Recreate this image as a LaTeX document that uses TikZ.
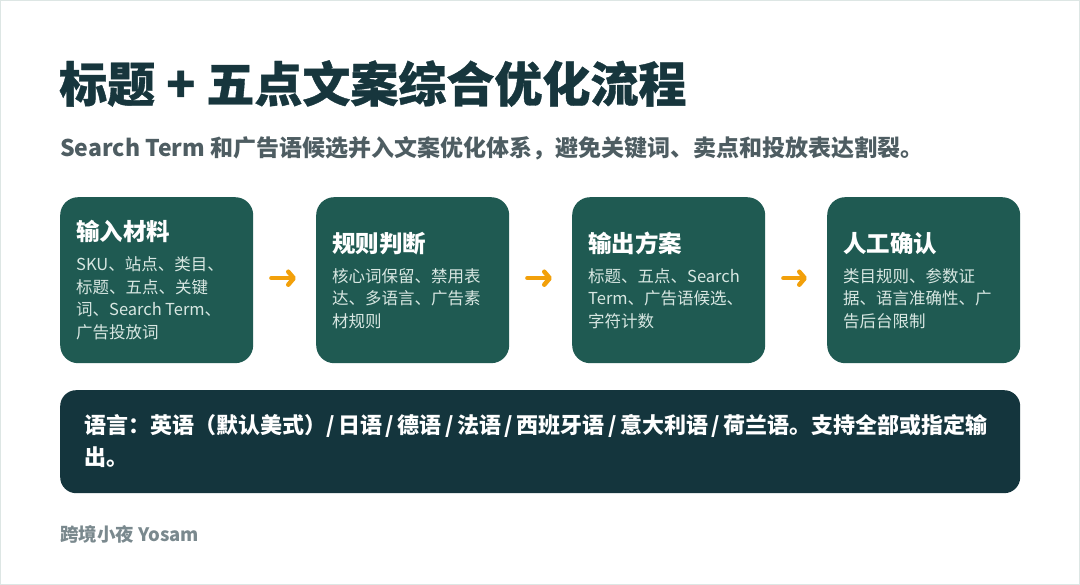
\documentclass[tikz,border=0pt]{standalone}
\usepackage{fontspec}
\setmainfont{Noto Sans CJK SC}
\newfontfamily\heavyfont{Noto Sans CJK SC}[BoldFeatures={FakeBold=0.8}]
\usetikzlibrary{arrows.meta}
\definecolor{frame}{HTML}{DDE6E4}
\definecolor{titlec}{HTML}{17363D}
\definecolor{subc}{HTML}{4E5D62}
\definecolor{boxc}{HTML}{1F5A52}
\definecolor{bodyc}{HTML}{D8E7E2}
\definecolor{darkc}{HTML}{14353D}
\definecolor{arrowc}{HTML}{F2A00A}
\definecolor{footc}{HTML}{7A898E}
\tikzset{
  stepbox/.style={fill=boxc, rounded corners=18pt, minimum width=193pt, minimum height=166pt, inner sep=0pt, anchor=north west, draw=none},
  boxtext/.style={anchor=west, inner sep=0pt, text width=170pt, align=left, text=white},
  flowarrow/.style={draw=arrowc, line width=4.5pt, line cap=round, shorten <=18pt, shorten >=20pt, -{Straight Barb[length=5.5pt, width=13pt, round]}},
}
\newcommand{\bt}[2]{{\fontsize{23.5}{23.5}\selectfont\bfseries #1\par}\vskip 7.5pt{\fontsize{16.5}{22.5}\selectfont\color{bodyc}#2\par}}
\newcommand{\sep}{\hspace{3.5pt}/\hspace{3.5pt}}
\begin{document}
\begin{tikzpicture}[x=1pt, y=-1pt]
\path[use as bounding box, draw=frame, line width=1pt, fill=white] (0.5,0.5) rectangle (1079.5,584.5);
\node[anchor=base west, inner sep=0pt, text=titlec, font=\fontsize{48}{48}\heavyfont\bfseries] (title) at (59,102) {标题 + 五点文案综合优化流程};
\node[anchor=base west, inner sep=0pt, text=subc, font=\fontsize{23}{23}\selectfont\bfseries] (sub) at (60,156.5) {Search Term 和广告语候选并入文案优化体系，避免关键词、卖点和投放表达割裂。};
\node[stepbox] (b1) at (60,197) {};
\node[stepbox] (b2) at (316,197) {};
\node[stepbox] (b3) at (572,197) {};
\node[stepbox] (b4) at (827,197) {};
\node[boxtext] (t1) at ([xshift=16pt]b1.west) {\bt{输入材料}{SKU、站点、类目、\\标题、五点、关键\\词、Search Term、\\广告投放词}};
\node[boxtext] (t2) at ([xshift=16pt]b2.west) {\bt{规则判断}{核心词保留、禁用表\\达、多语言、广告素\\材规则}};
\node[boxtext] (t3) at ([xshift=16pt]b3.west) {\bt{输出方案}{标题、五点、Search\\Term、广告语候选、\\字符计数}};
\node[boxtext] (t4) at ([xshift=16pt]b4.west) {\bt{人工确认}{类目规则、参数证\\据、语言准确性、广\\告后台限制}};
\draw[flowarrow] ([yshift=2pt]b1.east) -- ([yshift=2pt]b2.west);
\draw[flowarrow] ([yshift=2pt]b2.east) -- ([yshift=2pt]b3.west);
\draw[flowarrow] ([yshift=2pt]b3.east) -- ([yshift=2pt]b4.west);
\node[fill=darkc, rounded corners=16pt, minimum width=960pt, minimum height=103pt, anchor=north west, inner sep=0pt] (lang) at (60,390) {};
\node[anchor=base west, inner sep=0pt, text=white, font=\fontsize{22}{32}\selectfont\bfseries, align=left] (langt) at (84,465.5) {语言：英语（默认美式）/\hspace{3.5pt}日语\sep 德语\sep 法语\sep 西班牙语\sep 意大利语\sep 荷兰语。支持全部或指定输\\出。};
\node[anchor=base west, inner sep=0pt, text=footc, font=\fontsize{18.5}{18.5}\selectfont\bfseries] (foot) at (60,541.5) {跨境小夜 Yosam};
\end{tikzpicture}
\end{document}
